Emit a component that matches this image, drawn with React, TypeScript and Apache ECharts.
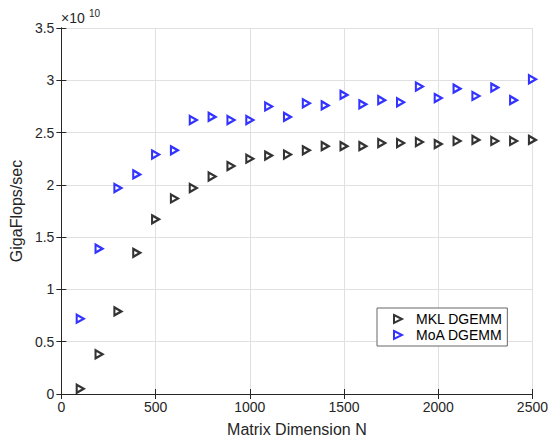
import React, { useEffect, useRef } from "react";
import * as echarts from "echarts";

// Matrix dimension N
const dims = [100, 200, 300, 400, 500, 600, 700, 800, 900, 1000, 1100, 1200, 1300, 1400, 1500, 1600, 1700, 1800, 1900, 2000, 2100, 2200, 2300, 2400, 2500];
// GigaFlops/sec in units of 1e10
const mklValues = [0.05, 0.38, 0.79, 1.35, 1.67, 1.87, 1.97, 2.08, 2.18, 2.25, 2.28, 2.29, 2.33, 2.37, 2.37, 2.37, 2.40, 2.40, 2.41, 2.39, 2.42, 2.43, 2.42, 2.42, 2.43];
const moaValues = [0.72, 1.39, 1.97, 2.10, 2.29, 2.33, 2.62, 2.65, 2.62, 2.62, 2.75, 2.65, 2.78, 2.76, 2.86, 2.77, 2.81, 2.79, 2.94, 2.83, 2.92, 2.85, 2.93, 2.81, 3.01];
const seriesNames = ["MKL DGEMM", "MoA DGEMM"];
const xTicks = { min: 0, max: 2500, interval: 500 };
const yTicks = { min: 0, max: 3.5, interval: 0.5 };

const FONT = "'Liberation Sans', Arial, Helvetica, sans-serif";
const AX = "#262626";
const TRI = "path://M0,0 L10,5 L0,10 Z";

export default function App() {
  const ref = useRef<HTMLDivElement>(null);
  useEffect(() => {
    document.body.style.margin = "0";
    if (!ref.current) return;
    const chart = echarts.init(ref.current, undefined, { renderer: "svg" });
    const axisCommon = {
      axisLine: { show: true, lineStyle: { color: AX, width: 1 } },
      axisTick: { show: true, inside: true, length: 5, lineStyle: { color: AX } },
    };
    chart.setOption({
      animation: false,
      backgroundColor: "#fff",
      textStyle: { fontFamily: FONT },
      grid: { left: 60, right: 18, top: 28, bottom: 43 },
      legend: {
        orient: "vertical",
        left: 377,
        top: 308,
        data: seriesNames,
        backgroundColor: "#fff",
        borderColor: "#666",
        borderWidth: 1,
        borderRadius: 0,
        padding: [4, 5, 4, 16],
        itemWidth: 8,
        itemHeight: 9,
        itemGap: 2,
        textStyle: { fontFamily: FONT, fontSize: 14, color: "#000", lineHeight: 14, padding: [0, 0, 0, 9] },
      },
      xAxis: [
        {
          type: "value",
          ...xTicks,
          name: "Matrix Dimension N",
          nameLocation: "middle",
          nameGap: 27,
          nameTextStyle: { fontFamily: FONT, fontSize: 16, color: AX },
          ...axisCommon,
          axisLabel: { fontFamily: FONT, fontSize: 14, color: AX, margin: 6, formatter: (v: number) => String(v) },
          splitLine: { show: true, lineStyle: { color: "#e0e0e0", width: 1 } },
        },
        {
          type: "value",
          position: "top",
          ...xTicks,
          ...axisCommon,
          axisLabel: { show: false },
          splitLine: { show: false },
        },
      ],
      yAxis: [
        {
          type: "value",
          ...yTicks,
          name: "GigaFlops/sec",
          nameLocation: "middle",
          nameGap: 31,
          nameTextStyle: { fontFamily: FONT, fontSize: 16, color: AX },
          ...axisCommon,
          axisLabel: { fontFamily: FONT, fontSize: 14, color: AX, margin: 7, formatter: (v: number) => String(v) },
          splitLine: { show: true, lineStyle: { color: "#e0e0e0", width: 1 } },
        },
        {
          type: "value",
          position: "right",
          ...yTicks,
          ...axisCommon,
          axisLabel: { show: false },
          splitLine: { show: false },
        },
      ],
      series: [
        {
          name: seriesNames[0],
          type: "scatter",
          symbol: TRI,
          symbolSize: [7, 8],
          itemStyle: { color: "#fff", borderColor: "#000", borderWidth: 2.2 },
          data: dims.map((d, i) => [d, mklValues[i]]),
        },
        {
          name: seriesNames[1],
          type: "scatter",
          symbol: TRI,
          symbolSize: [7, 8],
          itemStyle: { color: "#fff", borderColor: "#0000ff", borderWidth: 2.2 },
          data: dims.map((d, i) => [d, moaValues[i]]),
        },
      ],
      graphic: [
        { type: "text", left: 61, top: 11, style: { text: "×10", fontFamily: FONT, fontSize: 14, fill: AX } },
        { type: "text", left: 89, top: 8, style: { text: "10", fontFamily: FONT, fontSize: 10, fill: AX } },
      ],
    });
    return () => chart.dispose();
  }, []);
  return <div ref={ref} style={{ width: 551, height: 442 }} />;
}
